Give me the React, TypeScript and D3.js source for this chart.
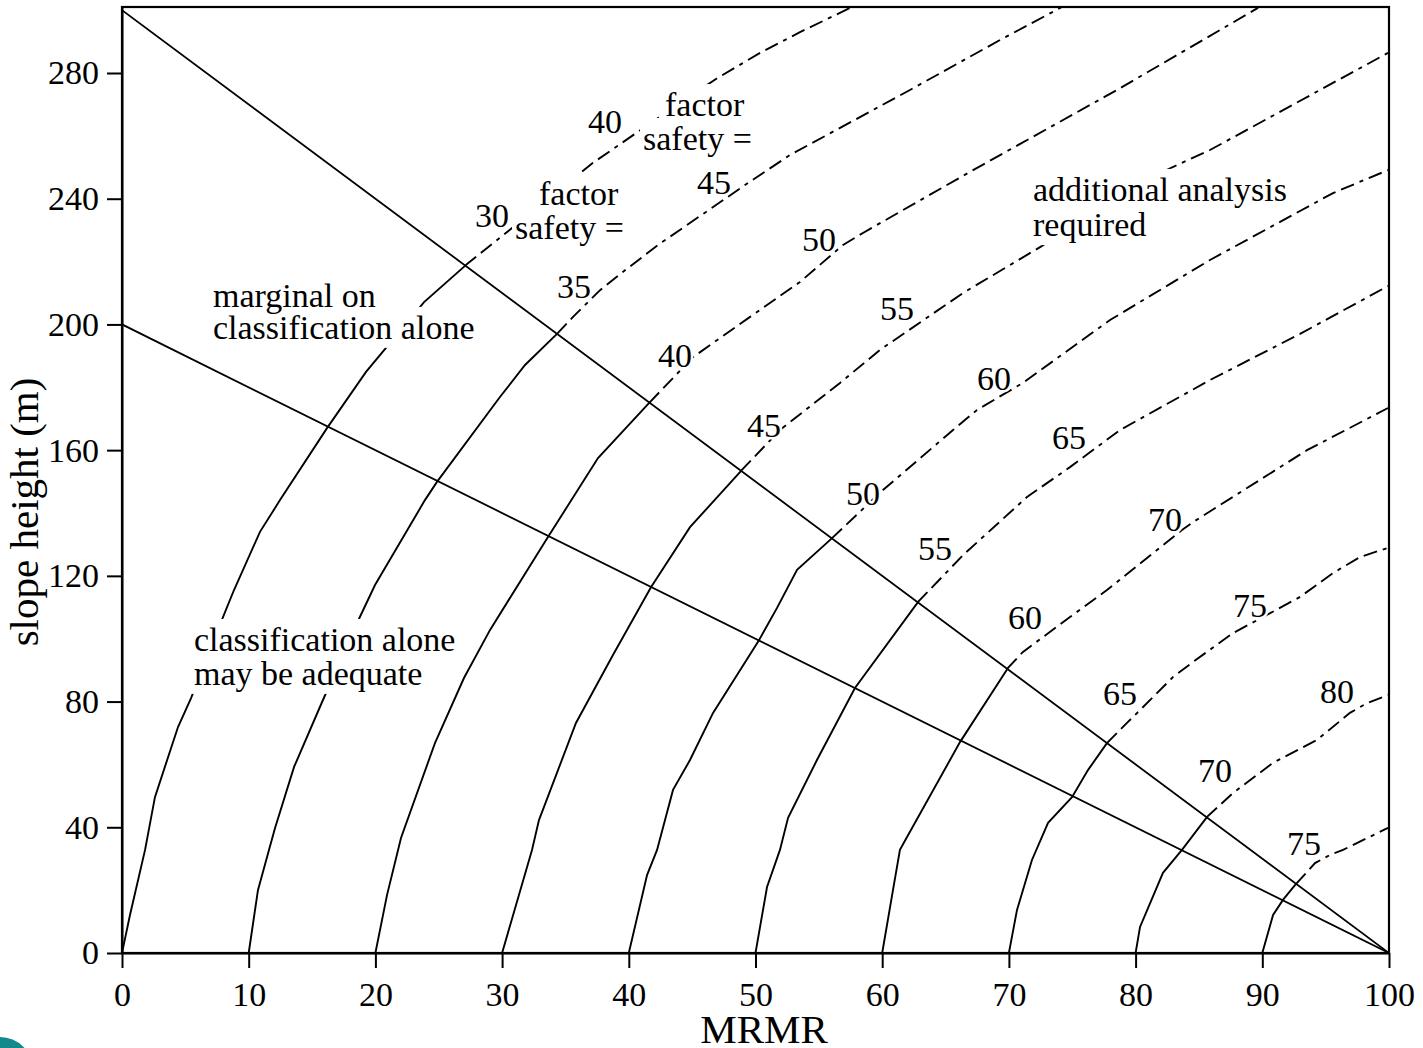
import React, { useRef, useEffect } from "react";
import * as d3 from "d3";

type Pt = [number, number];

// axis ticks
const mrmrTicks = [0, 10, 20, 30, 40, 50, 60, 70, 80, 90, 100];
const heightTicks = [0, 40, 80, 120, 160, 200, 240, 280];

// the two boundary lines (MRMR, slope height)
const upperBoundary: Pt[] = [[0, 300], [100, 0]];
const lowerBoundary: Pt[] = [[0, 200], [100, 0]];

// slope angle curves, one per starting MRMR
const curve0: Pt[] = [[0, 0], [0.63, 12.1], [1.82, 32.8], [2.6, 49.6], [4.42, 71.9], [5.45, 81.1], [7.81, 105.3], [8.84, 115.5], [10.89, 134], [12.47, 144.1], [16.18, 167], [19.26, 184.9], [23.84, 207.1], [27.23, 219.2], [32.75, 237], [37.17, 251.4], [42.31, 265.7], [46.88, 278.1], [50.36, 286.4], [53.51, 293], [57.62, 301]];
const curve10: Pt[] = [[10, 0], [10.73, 20], [11.6, 32.8], [12.08, 39.8], [13.58, 59.2], [15.86, 80.5], [18.55, 105], [19.97, 117.1], [23.91, 144.1], [24.86, 149.9], [29.83, 176.9], [31.81, 187.1], [34.41, 197.3], [35.6, 202.4], [37.73, 210.9], [39.31, 216], [42.31, 225.3], [49.41, 245], [52.72, 253.9], [62.19, 274.6], [69.3, 290.5], [74.19, 301]];
const curve20: Pt[] = [[20, 0], [20.92, 18.5], [22.02, 36.6], [24.7, 66.8], [26.99, 87.5], [29.05, 102.8], [33.62, 132.4], [34.96, 140.9], [37.57, 157.5], [41.67, 175.3], [45.07, 189.6], [49.57, 202.4], [53.51, 213.5], [56.91, 225.3], [58.48, 229.1], [67.17, 249.1], [78.53, 274.6], [89.66, 300.7]];
const curve30: Pt[] = [[30, 0], [32.36, 32.8], [32.91, 42.3], [35.83, 73.2], [38.75, 94.8], [41.75, 116.4], [44.83, 135.5], [48.93, 153.7], [51.93, 166.4], [56.67, 181.4], [59.83, 191.9], [66.38, 210], [72.46, 224.6], [81.93, 248.2], [85.87, 255.5], [99.92, 286.4]];
const curve40: Pt[] = [[40, 0], [41.44, 24.8], [42.23, 32.8], [43.49, 51.9], [44.83, 61.4], [46.65, 76.4], [50.2, 99], [51.7, 109.8], [53.28, 121.9], [56.04, 132], [58.8, 142.5], [60.06, 147.3], [65.59, 166.4], [67.48, 172.8], [71.11, 181.4], [77.98, 201.4], [85.87, 220.5], [95.58, 241.8], [99.92, 249.1]];
const curve50: Pt[] = [[50, 0], [50.91, 21], [51.93, 32.8], [52.57, 43], [54.85, 61.4], [57.85, 84.3], [62.83, 111.7], [66.38, 126.6], [71.43, 145.1], [74.82, 154.6], [78.77, 166.4], [85.87, 182.3], [92.98, 197], [99.92, 212.2]];
const curve60: Pt[] = [[60, 0], [60.85, 20], [61.4, 32.8], [61.96, 36.9], [66.14, 67.1], [69.93, 90.7], [71.11, 95.8], [74.82, 106.9], [77.74, 115.5], [83.66, 134.6], [84.53, 137.1], [93.53, 160], [99.92, 173.4]];
const curve70: Pt[] = [[70, 0], [70.64, 13.7], [71.82, 29.6], [73.09, 41.4], [74.98, 49.6], [76.24, 58.2], [77.74, 66.8], [79.32, 73.2], [80.35, 77.3], [82.95, 87.8], [84.53, 92.6], [87.69, 101.8], [90.06, 106.9], [92.98, 113.3], [95.58, 120.9], [97.71, 126], [99.92, 128.9]];
const curve80: Pt[] = [[80, 0], [80.35, 8.3], [82.16, 25.5], [83.66, 32.8], [85.64, 43.3], [87.69, 50.9], [90.84, 60.5], [94.32, 67.8], [96.92, 76.4], [98.26, 79.5], [99.92, 82.1]];
const curve90: Pt[] = [[90, 0], [90.85, 12.1], [91.63, 16.9], [92.58, 21.6], [94.16, 28.6], [95.34, 31.2], [96.37, 32.8], [99.92, 39.8]];

const curves = [curve0, curve10, curve20, curve30, curve40, curve50, curve60, curve70, curve80, curve90];

// angle labels on the curves (lower and upper sets) and where they sit
const lowerAngles = ["30", "35", "40", "45", "50", "55", "60", "65", "70", "75"];
const lowerAnglePos: Pt[] = [[27.86, 231], [34.33, 208.4], [42.3, 186.4], [49.33, 164.2], [57.14, 142.5], [62.83, 125], [69.93, 103.1], [77.43, 78.9], [84.93, 54.4], [91.95, 31.2]];
const upperAngles = ["40", "45", "50", "55", "60", "65", "70", "75", "80"];
const upperAnglePos: Pt[] = [[36.78, 260.9], [45.38, 241.5], [53.67, 223.4], [59.83, 201.4], [67.48, 179.1], [73.4, 160.4], [80.98, 134.3], [87.69, 106.9], [94.55, 79.5]];

// text notes, one entry per line
const noteLines = ["classification alone", "may be adequate", "marginal on", "classification alone", "factor", "safety =", "factor", "safety =", "additional analysis", "required"];
const notePos: Pt[] = [[5.68, 96.1], [5.68, 85.3], [7.18, 205.5], [7.18, 195.4], [32.91, 238], [31.02, 227.2], [42.86, 266.3], [41.12, 255.5], [71.9, 239.3], [71.9, 228.1]];

const FONT = "'Liberation Serif', 'Times New Roman', Times, serif";

export default function App() {
  const ref = useRef<SVGSVGElement>(null);

  useEffect(() => {
    const svg = d3.select(ref.current);
    svg.selectAll("*").remove();

    const x = d3.scaleLinear().domain([0, 100]).range([122, 1389]);
    const y = d3.scaleLinear().domain([0, 301]).range([953, 7]);

    const line = d3
      .line<Pt>()
      .x((d) => x(d[0]))
      .y((d) => y(d[1]));

    // height of the upper boundary at a given MRMR
    const [[ux0, uy0], [ux1, uy1]] = upperBoundary;
    const upperAt = (m: number) => uy0 + ((uy1 - uy0) * (m - ux0)) / (ux1 - ux0);

    // solid below the upper boundary, dashed above it
    const split = (pts: Pt[]): [Pt[], Pt[]] => {
      const d = (p: Pt) => p[1] - upperAt(p[0]);
      for (let i = 1; i < pts.length; i++) {
        const a = d(pts[i - 1]);
        const b = d(pts[i]);
        if (a < 0 && b >= 0) {
          const t = a / (a - b);
          const p: Pt = [
            pts[i - 1][0] + t * (pts[i][0] - pts[i - 1][0]),
            pts[i - 1][1] + t * (pts[i][1] - pts[i - 1][1]),
          ];
          return [[...pts.slice(0, i), p], [p, ...pts.slice(i)]];
        }
      }
      return [pts, []];
    };

    svg
      .append("defs")
      .append("clipPath")
      .attr("id", "plot")
      .append("rect")
      .attr("x", x(0))
      .attr("y", y(301))
      .attr("width", x(100) - x(0))
      .attr("height", y(0) - y(301));

    const plot = svg.append("g").attr("clip-path", "url(#plot)");

    plot
      .selectAll(".bound")
      .data([upperBoundary, lowerBoundary])
      .enter()
      .append("path")
      .attr("d", (d) => line(d))
      .attr("fill", "none")
      .attr("stroke", "#000")
      .attr("stroke-width", 1.8);

    curves.forEach((c) => {
      const [solid, dashed] = split(c);
      plot
        .append("path")
        .attr("d", line(solid))
        .attr("fill", "none")
        .attr("stroke", "#000")
        .attr("stroke-width", 1.9);
      if (dashed.length)
        plot
          .append("path")
          .attr("d", line(dashed))
          .attr("fill", "none")
          .attr("stroke", "#000")
          .attr("stroke-width", 1.9)
          .attr("stroke-dasharray", "14,6,14,6,4,6");
    });

    // notes sit on white so the curves break around them
    const backs = svg.append("g");
    const notes = svg.append("g").attr("font-family", FONT).attr("font-size", 34);
    noteLines.forEach((txt, i) => {
      const t = notes
        .append("text")
        .attr("x", x(notePos[i][0]))
        .attr("y", y(notePos[i][1]))
        .attr("fill", "#000")
        .text(txt);
      const bb = (t.node() as SVGTextElement).getBBox();
      backs
        .append("rect")
        .attr("x", bb.x - 3)
        .attr("y", bb.y - 2)
        .attr("width", bb.width + 6)
        .attr("height", bb.height + 4)
        .attr("fill", "#fff");
    });

    const labels = svg
      .append("g")
      .attr("font-family", FONT)
      .attr("font-size", 34)
      .attr("fill", "#000")
      .attr("stroke", "#fff")
      .attr("stroke-width", 5)
      .attr("stroke-linejoin", "round")
      .attr("paint-order", "stroke");

    const angleData = [
      ...lowerAngles.map((t, i) => ({ t, p: lowerAnglePos[i] })),
      ...upperAngles.map((t, i) => ({ t, p: upperAnglePos[i] })),
    ];
    labels
      .selectAll("text")
      .data(angleData)
      .enter()
      .append("text")
      .attr("x", (d) => x(d.p[0]))
      .attr("y", (d) => y(d.p[1]))
      .text((d) => d.t);

    // axes
    const xAxis = svg
      .append("g")
      .attr("transform", `translate(0,${y(0)})`)
      .call(d3.axisBottom(x).tickValues(mrmrTicks).tickSize(15).tickSizeOuter(0).tickPadding(14));
    const yAxis = svg
      .append("g")
      .attr("transform", `translate(${x(0)},0)`)
      .call(d3.axisLeft(y).tickValues(heightTicks).tickSize(15).tickSizeOuter(0).tickPadding(8));

    [xAxis, yAxis].forEach((g) => {
      g.attr("font-family", FONT).attr("font-size", 34);
      g.selectAll("text").attr("fill", "#000");
      g.selectAll("line").attr("stroke", "#000").attr("stroke-width", 2);
      g.select(".domain").attr("stroke", "#000").attr("stroke-width", 2);
    });

    // frame
    svg
      .append("rect")
      .attr("x", x(0))
      .attr("y", y(301))
      .attr("width", x(100) - x(0))
      .attr("height", y(0) - y(301))
      .attr("fill", "none")
      .attr("stroke", "#000")
      .attr("stroke-width", 2.2);

    svg
      .append("text")
      .attr("x", 764)
      .attr("y", 1043)
      .attr("text-anchor", "middle")
      .attr("font-family", FONT)
      .attr("font-size", 41)
      .text("MRMR");

    svg
      .append("text")
      .attr("transform", "translate(38,512) rotate(-90)")
      .attr("text-anchor", "middle")
      .attr("font-family", FONT)
      .attr("font-size", 41)
      .text("slope height (m)");

    // slide decoration in the corner
    svg.append("circle").attr("cx", 0).attr("cy", 1070).attr("r", 33).attr("fill", "#13898b");
  }, []);

  return (
    <svg
      ref={ref}
      width={1423}
      height={1048}
      style={{ position: "absolute", left: 0, top: 0, background: "#fff" }}
    />
  );
}
